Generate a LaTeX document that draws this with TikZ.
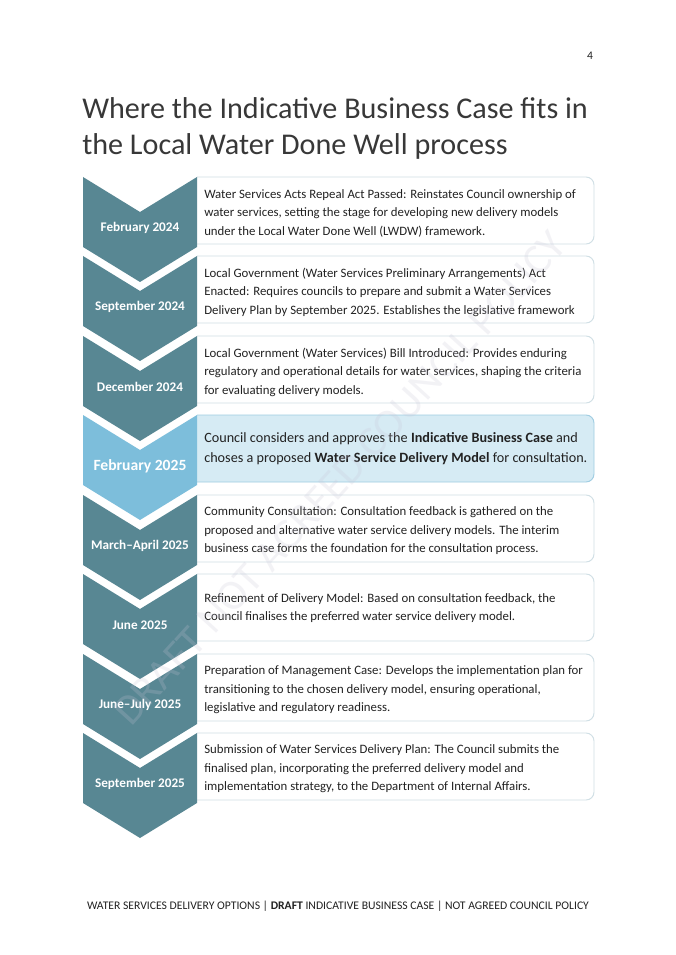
\documentclass[tikz,border=0pt]{standalone}
\usepackage{fontspec}
\setmainfont{Carlito}
\usetikzlibrary{positioning}
\definecolor{wsTeal}{RGB}{88,135,147}
\definecolor{wsSky}{RGB}{125,190,219}
\definecolor{wsMist}{RGB}{214,235,244}
\definecolor{wsEdge}{RGB}{208,223,229}
\definecolor{wsEdgeSky}{RGB}{160,205,226}
\definecolor{wsInk}{RGB}{34,34,34}
\definecolor{wsMark}{RGB}{200,196,214}
% chevron of one stage, top edge at #1
\newcommand{\stageshape}[2]{%
  \fill[#2] (83,#1) -- (140,{#1+35}) -- (197,#1) -- (197,{#1+70}) -- (140,{#1+105}) -- (83,{#1+70}) -- cycle;
}
% card beside the chevron
\newcommand{\stagecard}[3]{%
  \filldraw[fill=#2, draw=#3, line width=0.7pt, rounded corners=6pt]
    (197,#1) -- (594,#1) -- (594,{#1+67}) -- (197,{#1+67});
}

\begin{document}
\begin{tikzpicture}[x=0.75pt,y=-0.75pt,
  datelabel/.style={text=white, font=\fontsize{9.9}{12}\selectfont\bfseries, inner sep=0pt},
  note/.style={anchor=west, align=left, inner sep=0pt, text=wsInk,
    font=\fontsize{9.6}{13.9}\selectfont},
  heading/.style={anchor=base west, inner sep=0pt, text=wsInk!90,
    font=\fontsize{22.6}{27.75}\selectfont}]
  \useasboundingbox[fill=white] (0,0) rectangle (675,955);
  \node[text=wsInk, font=\fontsize{8.7}{10}\selectfont, inner sep=0pt] (page) at (590,56) {4};
  \node[heading] (title) at (82,119) {Where the Indicative Business Case fits in};
  \node[heading] (title2) at (82,155) {the Local Water Done Well process};

  % timeline
  \foreach \t in {177,256,336,495,574,654,733}{
    \stagecard{\t}{white}{wsEdge}
    \stageshape{\t}{wsTeal}
  }
  \stagecard{415}{wsMist}{wsEdgeSky}
  \stageshape{415}{wsSky}

  \node[datelabel] (date1) at (140,228) {February 2024};
  \node[datelabel] (date2) at (140,307) {September 2024};
  \node[datelabel] (date3) at (140,387) {December 2024};
  \node[datelabel, font=\fontsize{11.7}{14}\selectfont\bfseries] (date4) at (140,466) {February 2025};
  \node[datelabel] (date5) at (140,546) {March–April 2025};
  \node[datelabel] (date6) at (140,625) {June 2025};
  \node[datelabel] (date7) at (140,705) {June–July 2025};
  \node[datelabel] (date8) at (140,784) {September 2025};

  \node[note] (note1) at (204,213) {Water Services Acts Repeal Act Passed: Reinstates Council ownership of\\water services, setting the stage for developing new delivery models\\under the Local Water Done Well (LWDW) framework.};
  \node[note] (note2) at (204,292) {Local Government (Water Services Preliminary Arrangements) Act\\Enacted: Requires councils to prepare and submit a Water Services\\Delivery Plan by September 2025. Establishes the legislative framework};
  \node[note] (note3) at (204,372) {Local Government (Water Services) Bill Introduced: Provides enduring\\regulatory and operational details for water services, shaping the criteria\\for evaluating delivery models.};
  \node[note, font=\fontsize{10.65}{15}\selectfont] (note4) at (204,449) {Council considers and approves the \textbf{Indicative Business Case} and\\choses a proposed \textbf{Water Service Delivery Model} for consultation.};
  \node[note] (note5) at (204,531) {Community Consultation: Consultation feedback is gathered on the\\proposed and alternative water service delivery models. The interim\\business case forms the foundation for the consultation process.};
  \node[note] (note6) at (204,608) {Refinement of Delivery Model: Based on consultation feedback, the\\Council finalises the preferred water service delivery model.};
  \node[note] (note7) at (204,690) {Preparation of Management Case: Develops the implementation plan for\\transitioning to the chosen delivery model, ensuring operational,\\legislative and regulatory readiness.};
  \node[note] (note8) at (204,769) {Submission of Water Services Delivery Plan: The Council submits the\\finalised plan, incorporating the preferred delivery model and\\implementation strategy, to the Department of Internal Affairs.};

  \node[rotate=47.7, text=wsMark, opacity=0.22, font=\fontsize{32}{32}\selectfont] (mark) at (340,478) {DRAFT NOT AGREED COUNCIL POLICY};

  \node[text=wsInk, font=\fontsize{8.75}{10}\selectfont, inner sep=0pt] (footer) at (338,906) {WATER SERVICES DELIVERY OPTIONS | \textbf{DRAFT} INDICATIVE BUSINESS CASE | NOT AGREED COUNCIL POLICY};
\end{tikzpicture}
\end{document}
